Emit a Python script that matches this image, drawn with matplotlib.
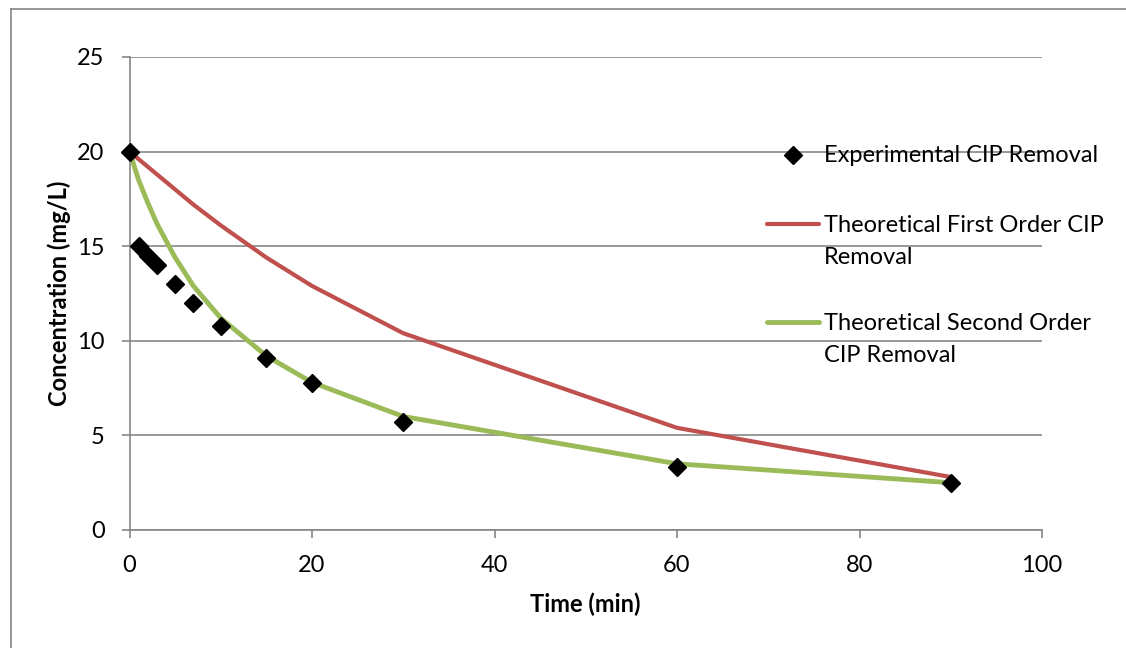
import matplotlib
matplotlib.use("Agg")
import matplotlib.pyplot as plt
from matplotlib.lines import Line2D

plt.rcParams['font.family'] = ['Lato', 'DejaVu Sans']

time_min = [0, 1, 2, 3, 5, 7, 10, 15, 20, 30, 60, 90]
experimental = [20, 15.0, 14.5, 14.0, 13.0, 12.0, 10.8, 9.1, 7.75, 5.7, 3.35, 2.5]
first_order = [20, 19.6, 19.2, 18.8, 18.0, 17.2, 16.1, 14.4, 12.9, 10.4, 5.4, 2.8]
second_order = [20, 18.5, 17.3, 16.2, 14.4, 12.9, 11.2, 9.2, 7.8, 6.0, 3.5, 2.5]

labels = ["Experimental CIP Removal",
          "Theoretical First Order CIP\nRemoval",
          "Theoretical Second Order\nCIP Removal"]
x_ticks = [0, 20, 40, 60, 80, 100]
y_ticks = [0, 5, 10, 15, 20, 25]

W, H = 1126, 648
fig = plt.figure(figsize=(W / 100, H / 100), dpi=100)
ax = fig.add_axes([129.5 / W, 1 - 530 / H, (1042 - 129.5) / W, (530 - 57) / H])

red = '#c0504d'
green = '#9bbb59'
gray = '#868686'
FS = 17

ax.plot(time_min, first_order, color=red, lw=3, solid_capstyle='round', zorder=3)
ax.plot(time_min, second_order, color=green, lw=3.5, solid_capstyle='round', zorder=3)
ax.plot(time_min, experimental, linestyle='none', marker='D', color='black',
        markersize=9.5, zorder=4, clip_on=False)

ax.set_xlim(0, 100)
ax.set_ylim(0, 25)
ax.set_xticks(x_ticks)
ax.set_yticks(y_ticks)
ax.grid(axis='y', color=gray, lw=1.2)
ax.set_axisbelow(True)
for s in ['top', 'right']:
    ax.spines[s].set_visible(False)
for s in ['left', 'bottom']:
    ax.spines[s].set_color(gray)
    ax.spines[s].set_linewidth(1.2)
ax.tick_params(axis='both', direction='out', length=6, width=1.2, color=gray,
               labelsize=FS, labelcolor='black')
ax.tick_params(axis='y', pad=12)
ax.tick_params(axis='x', pad=12)

ax.set_xlabel("Time (min)", fontsize=FS, fontweight='bold', labelpad=12)
ax.set_ylabel("Concentration (mg/L)", fontsize=FS, fontweight='bold', labelpad=4)

# legend drawn manually (Excel-style: handle beside first text line)
def fy(py):
    return 1 - py / H

def fx(px):
    return px / W

fig.add_artist(Line2D([fx(793)], [fy(155)], marker='D', color='black',
                      markersize=9, linestyle='none', transform=fig.transFigure))
fig.add_artist(Line2D([fx(767), fx(819)], [fy(224), fy(224)], color=red, lw=3,
                      solid_capstyle='round', transform=fig.transFigure))
fig.add_artist(Line2D([fx(767), fx(819)], [fy(322), fy(322)], color=green, lw=3.5,
                      solid_capstyle='round', transform=fig.transFigure))
first_baselines = [162, 232, 330]
line_gap = 32
for lab, base in zip(labels, first_baselines):
    for i, line in enumerate(lab.split("\n")):
        fig.text(fx(824), fy(base + i * line_gap), line, fontsize=FS,
                 va='baseline', ha='left')

# outer border
fig.add_artist(Line2D([fx(11), 1], [fy(9), fy(9)], color=gray, lw=1.2,
                      transform=fig.transFigure))
fig.add_artist(Line2D([fx(11), fx(11)], [fy(9), 0], color=gray, lw=1.2,
                      transform=fig.transFigure))

fig.savefig("out.png", dpi=100)
